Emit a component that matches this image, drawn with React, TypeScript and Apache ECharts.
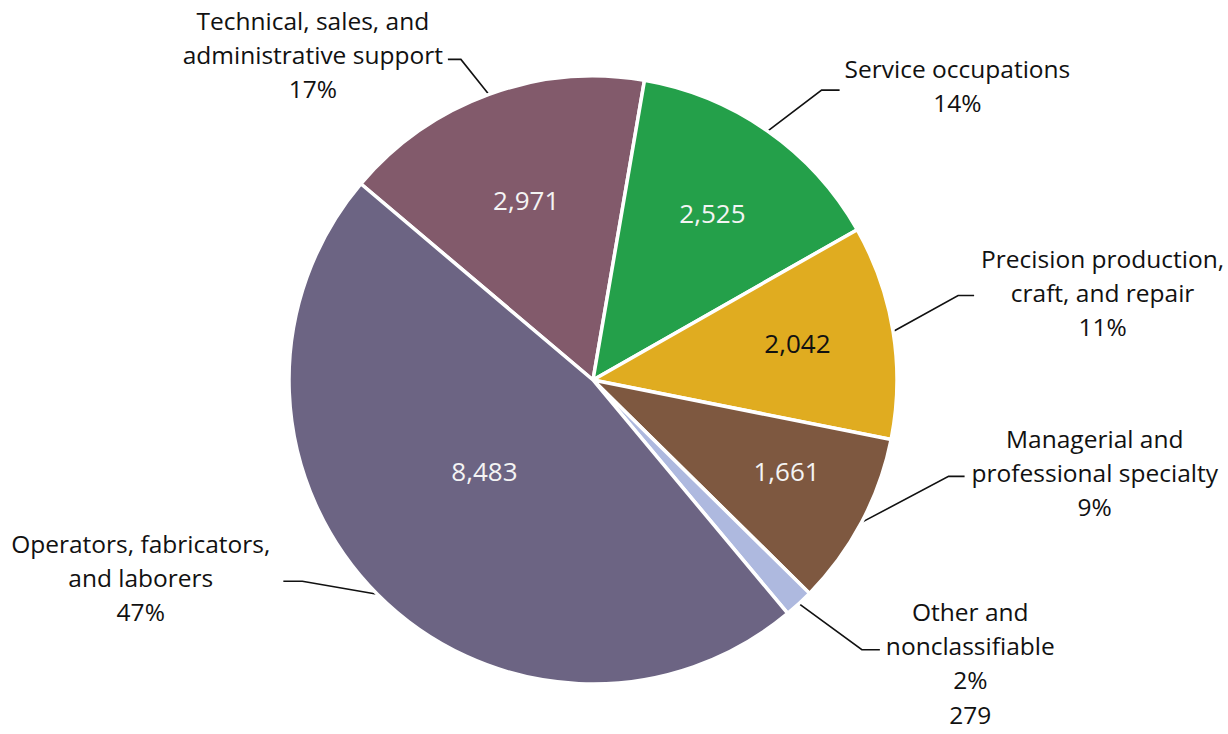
import React, { useEffect, useRef } from 'react';
import * as echarts from 'echarts';

// ---- data ----
const categories = [
  'Technical, sales, and\nadministrative support',
  'Service occupations',
  'Precision production,\ncraft, and repair',
  'Managerial and\nprofessional specialty',
  'Other and\nnonclassifiable',
  'Operators, fabricators,\nand laborers',
];
const values = [2971, 2525, 2042, 1661, 279, 8483];
// whether the count is printed under the outside label instead of inside the slice
const valueOutside = [false, false, false, false, true, false];

// ---- styles / layout ----
const sliceColors = ['#825A6B', '#24A04A', '#E0AC20', '#7E5840', '#AEB9DF', '#6C6483'];
const valueColors = ['#F4F4F4', '#F4F4F4', '#111111', '#F4F4F4', '#111111', '#F4F4F4'];
// leader line: elbow offset from slice edge, horizontal run, gap to text, text top offset
const leaders = [
  { dx: -28, dy: -35, run: 13, gap: 5, top: -56 },
  { dx: 54, dy: -41, run: 18, gap: 5, top: -39 },
  { dx: 65, dy: -36, run: 16, gap: 7, top: -54 },
  { dx: 87, dy: -46, run: 16, gap: 7, top: -55 },
  { dx: 63, dy: 46, run: 18, gap: 6, top: -55 },
  { dx: -75, dy: -13, run: 19, gap: 13, top: -55 },
];
const valueShift = [
  { dx: 2, dy: 9 },
  { dx: 4, dy: -2 },
  { dx: 6, dy: -5 },
  { dx: 16, dy: -3 },
  null,
  { dx: 34, dy: -51 },
];

const FONT = '"Open Sans", "Noto Sans", sans-serif';
const CENTER: [number, number] = [593, 380];
const RADIUS = 304;
const START = 139.8;

const fmt = (v: number) => v.toLocaleString('en-US');

export default function App() {
  const ref = useRef<HTMLDivElement>(null);
  useEffect(() => {
    if (!ref.current) return;
    const chart = echarts.init(ref.current, undefined, { renderer: 'svg' });
    const total = values.reduce((a, b) => a + b, 0);

    const midPoint = (i: number) => {
      let acc = 0;
      for (let k = 0; k < i; k++) acc += values[k];
      const ang = ((START - ((acc + values[i] / 2) / total) * 360) * Math.PI) / 180;
      return [CENTER[0] + RADIUS * Math.cos(ang), CENTER[1] - RADIUS * Math.sin(ang)];
    };

    const data = categories.map((name, i) => ({
      name,
      value: values[i],
      itemStyle: { color: sliceColors[i] },
    }));

    const option: any = {
      animation: false,
      series: [
        {
          type: 'pie',
          center: CENTER,
          radius: [0, RADIUS],
          startAngle: START,
          clockwise: true,
          avoidLabelOverlap: false,
          silent: true,
          itemStyle: { borderColor: '#ffffff', borderWidth: 3.5 },
          data,
          label: {
            show: true,
            position: 'outside',
            formatter: (p: any) => {
              const lines = String(p.name)
                .split('\n')
                .map((s) => `{a|${s}}`);
              lines.push(`{a|${Math.round(p.percent)}%}`);
              if (valueOutside[p.dataIndex]) lines.push(`{v|${fmt(p.value)}}`);
              return lines.join('\n');
            },
            rich: {
              a: { align: 'center', fontSize: 24.5, lineHeight: 34, color: '#111', fontFamily: FONT },
              v: {
                align: 'center',
                fontSize: 24.5,
                lineHeight: 20,
                padding: [16, 0, 0, 0],
                color: '#111',
                fontFamily: FONT,
              },
            },
          },
          labelLine: {
            show: true,
            length: 30,
            length2: 15,
            smooth: false,
            lineStyle: { color: '#111', width: 1.6 },
          },
          labelLayout: (params: any) => {
            const i = params.dataIndex;
            const L = leaders[i];
            const p0 =
              params.labelLinePoints && params.labelLinePoints[0]
                ? [params.labelLinePoints[0][0], params.labelLinePoints[0][1]]
                : midPoint(i);
            const elbow = [p0[0] + L.dx, p0[1] + L.dy];
            const right = L.dx > 0;
            const end = [elbow[0] + (right ? L.run : -L.run), elbow[1]];
            return {
              x: end[0] + (right ? L.gap : -L.gap),
              y: end[1] + L.top,
              align: right ? 'left' : 'right',
              verticalAlign: 'top',
              labelLinePoints: [p0, elbow, end],
            };
          },
        },
        {
          type: 'pie',
          center: CENTER,
          radius: [92, RADIUS],
          startAngle: START,
          clockwise: true,
          silent: true,
          avoidLabelOverlap: false,
          itemStyle: { color: 'rgba(0,0,0,0)', borderWidth: 0 },
          data: categories.map((name, i) => ({
            name,
            value: values[i],
            label: { show: !valueOutside[i], color: valueColors[i] },
          })),
          label: {
            show: true,
            position: 'inside',
            fontSize: 26,
            fontFamily: FONT,
            formatter: (p: any) => fmt(p.value),
          },
          labelLine: { show: false },
          labelLayout: (params: any) => {
            const s = valueShift[params.dataIndex];
            return s ? { dx: s.dx, dy: s.dy } : {};
          },
        },
      ],
    };
    chart.setOption(option);
    return () => chart.dispose();
  }, []);

  return (
    <div
      ref={ref}
      style={{ position: 'fixed', left: 0, top: 0, width: 1228, height: 734, background: '#ffffff' }}
    />
  );
}
